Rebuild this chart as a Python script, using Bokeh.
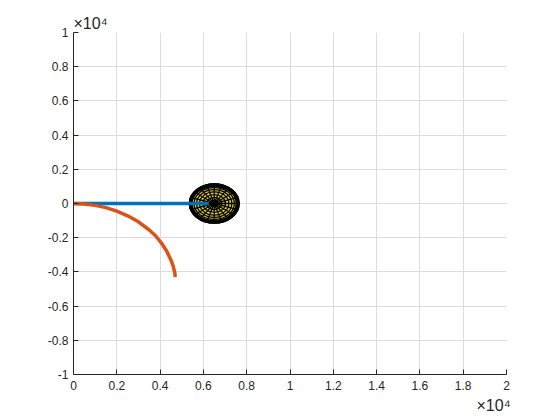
import numpy as np
from bokeh.plotting import figure
from bokeh.models import Title, FixedTicker, CustomJSTickFormatter
from bokeh.embed import file_html
from bokeh.resources import INLINE

# blue line: origin to the body
line_x = [0, 6250]
line_y = [0, 0]

# orange trajectory
traj_x = [0, 500, 1000, 1500, 2000, 2500, 3000, 3500, 3800, 4100, 4300, 4500, 4600, 4680, 4700]
traj_y = [0, -30, -110, -240, -450, -720, -1070, -1550, -1900, -2380, -2780, -3300, -3650, -4050, -4300]

# body (MATLAB sphere seen from above)
body_x = 6500
body_y = 0
body_r = 1150
n_lat = 10
n_lon = 20

x_ticks = [0, 2000, 4000, 6000, 8000, 10000, 12000, 14000, 16000, 18000, 20000]
y_ticks = [-10000, -8000, -6000, -4000, -2000, 0, 2000, 4000, 6000, 8000, 10000]

FONT = "Liberation Sans"
TXT = "#262626"

p = figure(width=560, height=420, x_range=(0, 20000), y_range=(-10000, 10000),
           output_backend="svg", toolbar_location=None,
           min_border_left=73, min_border_right=54, min_border_top=32, min_border_bottom=46)
p.outline_line_color = None
p.background_fill_color = "white"
p.border_fill_color = "white"

for ax, ticks in ((p.xaxis[0], x_ticks), (p.yaxis[0], y_ticks)):
    ax.ticker = FixedTicker(ticks=ticks)
    ax.formatter = CustomJSTickFormatter(code="return String(Math.round(tick/2000)*2/10);")
    ax.major_tick_in = 5
    ax.major_tick_out = 0
    ax.minor_tick_line_color = None
    ax.axis_line_color = TXT
    ax.major_tick_line_color = TXT
    ax.major_label_text_font = FONT
    ax.major_label_text_font_size = "12px"
    ax.major_label_text_color = TXT
p.xaxis.major_label_standoff = 6
p.yaxis.major_label_standoff = 5

p.xgrid.ticker = FixedTicker(ticks=x_ticks)
p.ygrid.ticker = FixedTicker(ticks=y_ticks)
p.grid.grid_line_color = "#dcdcdc"

# body: yellow faces with black mesh
p.ellipse(x=body_x, y=body_y, width=2 * body_r, height=2 * body_r,
          fill_color="#e8d42a", line_color=None)
ring_r = [body_r * np.sin(k * np.pi / (2 * n_lat)) for k in range(1, n_lat + 1)]
p.ellipse(x=[body_x] * n_lat, y=[body_y] * n_lat, width=[2 * r for r in ring_r],
          height=[2 * r for r in ring_r], fill_color=None, line_color="black", line_width=1.3)
ang = np.arange(n_lon) * 2 * np.pi / n_lon
p.segment(x0=[body_x] * n_lon, y0=[body_y] * n_lon,
          x1=list(body_x + body_r * np.cos(ang)), y1=list(body_y + body_r * np.sin(ang)),
          line_color="black", line_width=1.3)
p.ellipse(x=body_x, y=body_y, width=2 * body_r - 120, height=2 * body_r - 150,
          fill_color=None, line_color="black", line_width=4)
p.ellipse(x=body_x, y=body_y, width=380, height=380, fill_color="black", line_color="black")

p.line(line_x, line_y, line_color="#0072BD", line_width=3.5)
p.line(traj_x, traj_y, line_color="#D95319", line_width=3.5)

# exponent labels, MATLAB style
p.add_layout(Title(text="×10⁴", align="left", text_font=FONT, text_font_size="16px",
                   text_font_style="normal", text_color=TXT, standoff=1), "above")
p.add_layout(Title(text="×10⁴", align="right", text_font=FONT, text_font_size="16px",
                   text_font_style="normal", text_color=TXT, standoff=4, offset=-4), "below")

open("out.html", "w").write(file_html(p, INLINE))
